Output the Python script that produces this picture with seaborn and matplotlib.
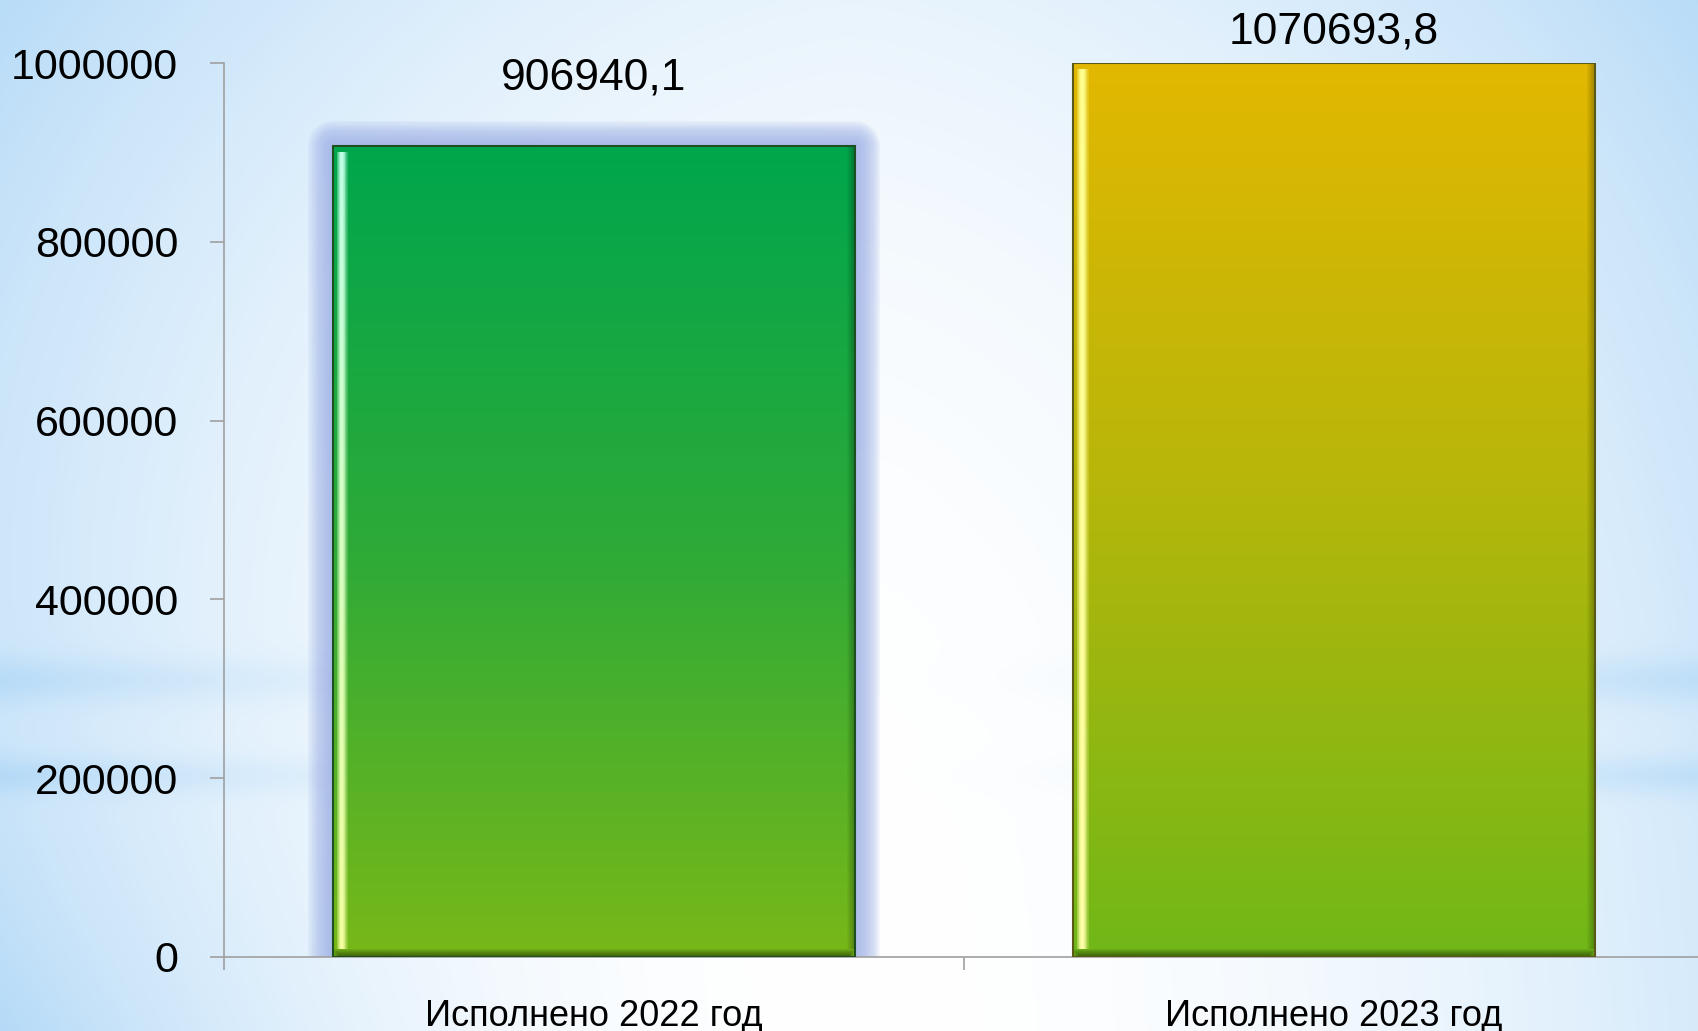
import numpy as np
import pandas as pd
import matplotlib
matplotlib.use('Agg')
import matplotlib.pyplot as plt
import matplotlib.patheffects as pe
from matplotlib.colors import LinearSegmentedColormap, to_rgb
from matplotlib.patches import Rectangle
import seaborn as sns

# Chart data
categories = ['Исполнено 2022 год', 'Исполнено 2023 год']
values = [906940.1, 1070693.8]
value_labels = ['906940,1', '1070693,8']
y_ticks = [0, 200000, 400000, 600000, 800000, 1000000]

df = pd.DataFrame({'category': categories, 'value': values})

sns.set_style('white')
plt.rcParams['font.family'] = ['Liberation Sans', 'DejaVu Sans']

fig = plt.figure(figsize=(16.99, 10.31), dpi=100)

# Soft blue background, white in the middle, with two faint bands
bg = fig.add_axes([0, 0, 1, 1], zorder=0)
yy, xx = np.mgrid[0:1:400j, 0:1:600j]
dx = np.abs(xx - 0.5) * 2
a = 0.55 * dx ** 2 + 0.3 * (1 - yy) ** 3 + 0.1 * (1 - yy) * dx
a += 0.45 * yy ** 4 * np.clip(1 - 2 * xx, 0, 1) ** 2
a += 0.28 * dx ** 1.5 * np.exp(-((yy - 0.66) / 0.022) ** 2)
a += 0.28 * dx ** 1.5 * np.exp(-((yy - 0.753) / 0.018) ** 2)
a = np.clip(a, 0, 1)[..., None]
blue = np.array([0.71, 0.855, 0.97])
bg.imshow(1 - a * (1 - blue), aspect='auto', extent=[0, 1, 0, 1], origin='upper')
bg.set_axis_off()

ax = fig.add_axes([224 / 1699, 74 / 1031, 1480 / 1699, 894 / 1031], zorder=1)
ax.patch.set_alpha(0)
sns.barplot(data=df, x='category', y='value', ax=ax, width=0.705,
            color='#10a040', saturation=1)

grads = [['#00a64c', '#2eaa38', '#78b818'],
         ['#e8b800', '#b8b60a', '#70b818']]
stripes = [['#c0ffe8', '#f4ffa0'], ['#ffff90', '#ffffa8']]
edges = ['#1d4f20', '#5a5a18']
ymax = 1000000
px = ymax / 894          # one pixel in data units (y)
pxx = 2 / 1480           # one pixel in data units (x)

for i, patch in enumerate(ax.patches[:len(values)]):
    x0, y0 = patch.get_x(), patch.get_y()
    wd, ht = patch.get_width(), patch.get_height()
    top = min(y0 + ht, ymax)
    patch.set_facecolor(grads[i][0])
    patch.set_edgecolor('none')
    if i == 0:
        effects = [pe.Stroke(linewidth=lw, foreground='#a2b4e8', alpha=0.12,
                             joinstyle='round')
                   for lw in np.linspace(36, 2, 14)]
        patch.set_path_effects(effects + [pe.Normal()])
    cmap = LinearSegmentedColormap.from_list('g%d' % i, grads[i])
    t0 = (y0 + ht - top) / ht
    grad = np.linspace(t0, 1, 256)[:, None]
    ax.imshow(grad, cmap=cmap, vmin=0, vmax=1, aspect='auto', origin='upper',
              extent=[x0, x0 + wd, y0, top], zorder=3)
    # bright bevel stripe on the left
    c0, c1 = np.array(to_rgb(stripes[i][0])), np.array(to_rgb(stripes[i][1]))
    tv = np.linspace(0, 1, 128)[:, None, None]
    rgb = c0 * (1 - tv) + c1 * tv
    prof = np.array([0.35, 0.8, 1.0, 1.0, 0.85, 0.5, 0.2])[None, :, None]
    stripe = np.concatenate([np.broadcast_to(rgb, (128, 7, 3)),
                             np.broadcast_to(prof, (128, 7, 1))], axis=2)
    ax.imshow(stripe, aspect='auto', origin='upper',
              extent=[x0 + 4 * pxx, x0 + 15 * pxx, y0 + 8 * px, top - 6 * px],
              zorder=4)
    # darker bevels at the bottom and right
    for k in range(8):
        ax.add_patch(Rectangle((x0 + k * pxx, y0), wd - 2 * k * pxx, (8 - k) * px,
                               color='black', alpha=0.07, lw=0, zorder=4))
        ax.add_patch(Rectangle((x0 + wd - (8 - k) * pxx, y0 + 8 * px),
                               (8 - k) * pxx, top - y0 - 8 * px,
                               color='black', alpha=0.035, lw=0, zorder=4))
    ax.add_patch(Rectangle((x0, y0), wd, top - y0, fill=False,
                           edgecolor=edges[i], lw=1.5, zorder=5))

# value labels
for i, patch in enumerate(ax.patches[:len(values)]):
    cx = patch.get_x() + patch.get_width() / 2
    if values[i] > ymax:
        y, off = ymax, 22
    else:
        y, off = values[i], 49
    ax.annotate(value_labels[i], (cx, y), xytext=(0, off),
                textcoords='offset points', ha='center', va='center',
                fontsize=32, color='black', annotation_clip=False)

ax.set_xlim(-0.5, 1.5)
ax.set_ylim(0, ymax)
ax.set_yticks(y_ticks)
ax.set_yticklabels([str(t) for t in y_ticks])
ax.set_xticks([0, 1])
ax.set_xticklabels(categories, fontsize=26)
ax.set_xticks([-0.5, 0.5, 1.5], minor=True)
ax.set_xlabel('')
ax.set_ylabel('')

sns.despine(ax=ax, top=True, right=True)
for s in ['left', 'bottom']:
    ax.spines[s].set_color('#a0a0a0')
    ax.spines[s].set_linewidth(1.2)
ax.tick_params(axis='y', length=10, width=1.2, color='#a0a0a0', pad=23,
               labelsize=31, labelcolor='black', left=True)
ax.tick_params(axis='x', which='major', length=0, pad=30, labelcolor='black')
ax.tick_params(axis='x', which='minor', length=9, width=1.2, color='#a0a0a0',
               bottom=True)

fig.savefig('out.png', dpi=100)
